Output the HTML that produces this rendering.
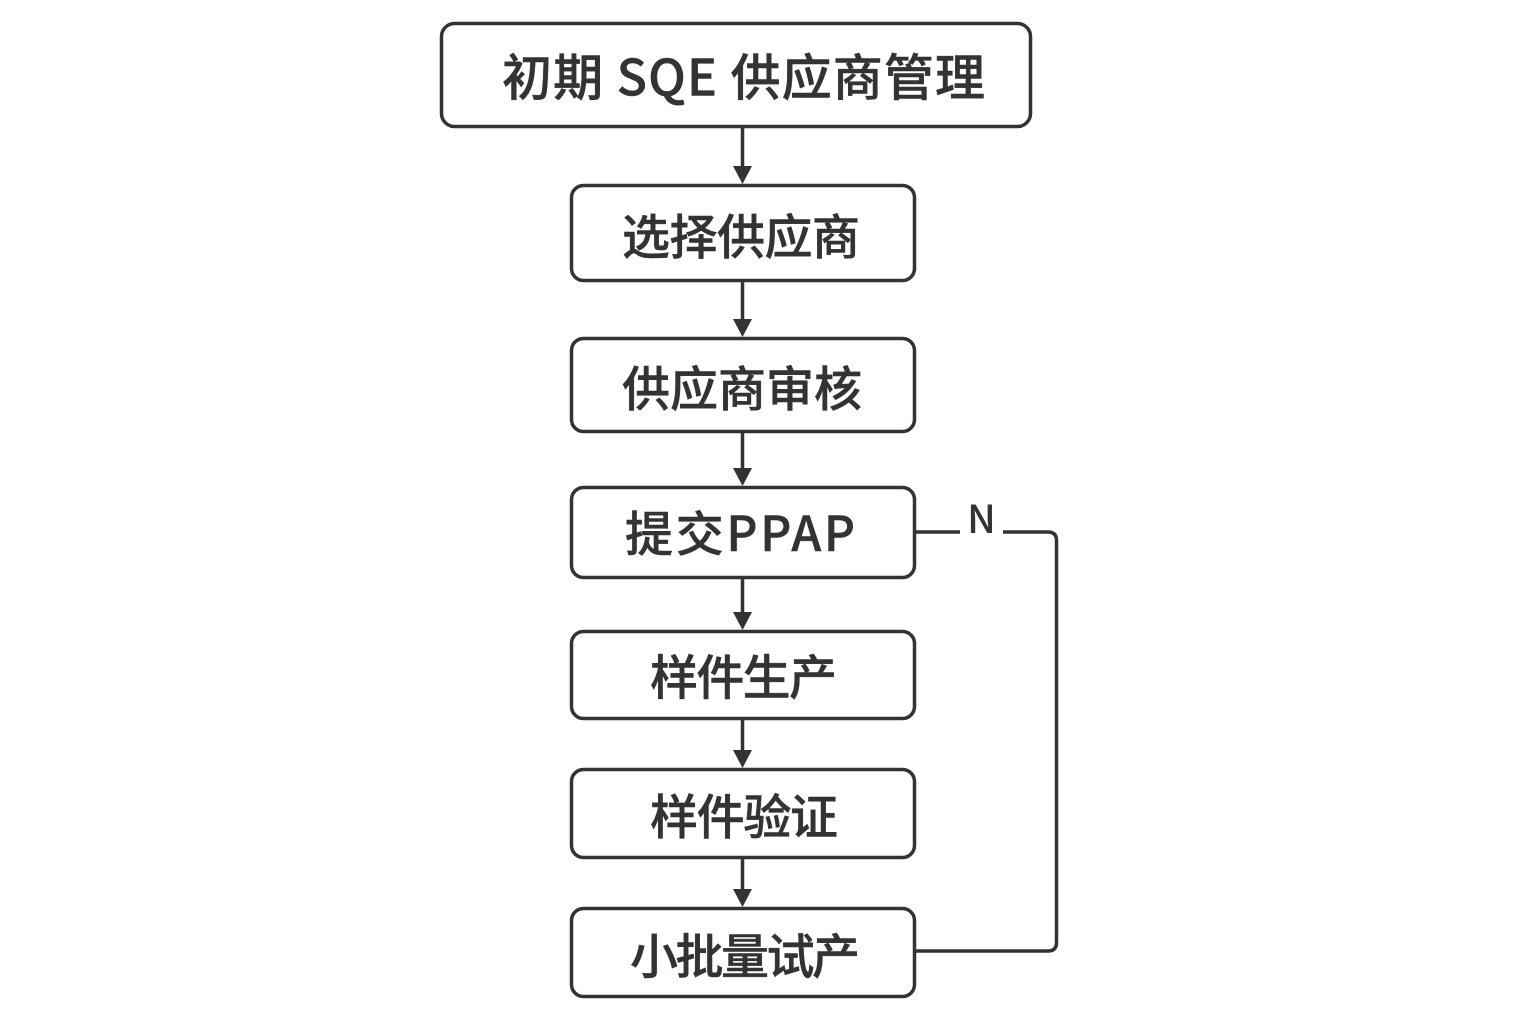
<!DOCTYPE html>
<html>
<head>
<meta charset="utf-8">
<style>
  html,body{margin:0;padding:0;background:#fff;}
  svg{display:block;}
  text{font-family:"Liberation Sans","Noto Sans CJK SC",sans-serif;fill:#333;}
  .cjk{font-family:"Noto Sans CJK SC","WenQuanYi Zen Hei",sans-serif;font-weight:500;stroke:#333;stroke-width:0.45px;}
  .n{font-family:"Noto Sans CJK SC",sans-serif;font-weight:500;}
</style>
</head>
<body>
<svg width="1536" height="1024" viewBox="0 0 1536 1024" xmlns="http://www.w3.org/2000/svg">
  <rect x="0" y="0" width="1536" height="1024" fill="#fff"/>
  <g fill="#fff" stroke="#333" stroke-width="3.5">
    <rect x="441.5" y="23.5" width="589" height="103" rx="13"/>
    <rect x="571.5" y="185.5" width="343" height="95" rx="12"/>
    <rect x="571.5" y="338.5" width="343" height="93" rx="12"/>
    <rect x="571.5" y="487.5" width="343" height="90" rx="12"/>
    <rect x="571.5" y="631.5" width="343" height="87" rx="12"/>
    <rect x="571.5" y="769.5" width="343" height="88" rx="12"/>
    <rect x="571.5" y="908.5" width="343" height="88" rx="12"/>
  </g>
  <!-- connectors -->
  <g stroke="#333" stroke-width="3.5" fill="none">
    <line x1="742.5" y1="128" x2="742.5" y2="168"/>
    <line x1="742.5" y1="282" x2="742.5" y2="321"/>
    <line x1="742.5" y1="433" x2="742.5" y2="470"/>
    <line x1="742.5" y1="579" x2="742.5" y2="614"/>
    <line x1="742.5" y1="720" x2="742.5" y2="752"/>
    <line x1="742.5" y1="859" x2="742.5" y2="891"/>
    <line x1="916" y1="532" x2="960" y2="532"/>
    <path d="M1003 532 H1048 Q1056.5 532 1056.5 540.5 V942.5 Q1056.5 951 1048 951 H916"/>
  </g>
  <g fill="#333">
    <polygon points="733,166 752,166 742.5,184"/>
    <polygon points="733,319 752,319 742.5,337"/>
    <polygon points="733,468 752,468 742.5,486"/>
    <polygon points="733,612 752,612 742.5,630"/>
    <polygon points="733,750 752,750 742.5,768"/>
    <polygon points="733,889 752,889 742.5,907"/>
  </g>
  <text class="n" x="981.5" y="533" font-size="39" text-anchor="middle">N</text>
  <text class="cjk" x="743.5" y="74.5" font-size="50" text-anchor="middle" dominant-baseline="central" textLength="483" lengthAdjust="spacing">初期 SQE 供应商管理</text>
  <text class="cjk" x="741" y="233" font-size="48" text-anchor="middle" dominant-baseline="central" textLength="238" lengthAdjust="spacing">选择供应商</text>
  <text class="cjk" x="742" y="385" font-size="48" text-anchor="middle" dominant-baseline="central" textLength="240" lengthAdjust="spacing">供应商审核</text>
  <text class="cjk" x="740" y="530" font-size="48" text-anchor="middle" dominant-baseline="central" textLength="230" lengthAdjust="spacing">提交PPAP</text>
  <text class="cjk" x="743.5" y="673.5" font-size="48" text-anchor="middle" dominant-baseline="central" textLength="187" lengthAdjust="spacing">样件生产</text>
  <text class="cjk" x="744" y="813" font-size="48" text-anchor="middle" dominant-baseline="central" textLength="188" lengthAdjust="spacing">样件验证</text>
  <text class="cjk" x="745" y="952.5" font-size="48" text-anchor="middle" dominant-baseline="central" textLength="230" lengthAdjust="spacing">小批量试产</text>
</svg>
</body>
</html>
